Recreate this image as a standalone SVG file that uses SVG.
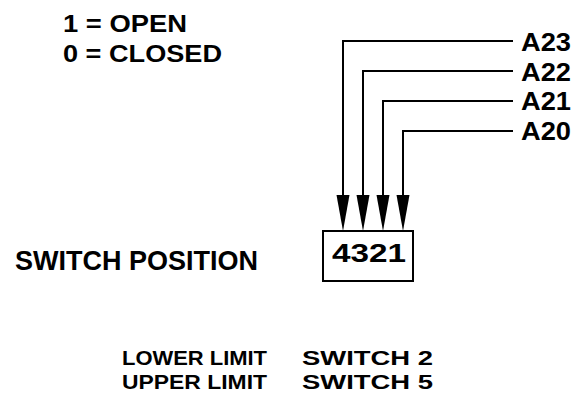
<svg xmlns="http://www.w3.org/2000/svg" width="574" height="405" viewBox="0 0 574 405">
<style>
text{font-family:"Liberation Sans",Arial,sans-serif;font-weight:bold;fill:#000}
.ln{fill:none;stroke:#000;stroke-width:2}
.ah{fill:#000}
</style>
<rect width="574" height="405" fill="#fff"/>
<g id="legend">
<text x="63" y="31.5" font-size="24.5" textLength="124" lengthAdjust="spacingAndGlyphs">1 = OPEN</text>
<text x="63" y="61.5" font-size="24.5" textLength="159" lengthAdjust="spacingAndGlyphs">0 = CLOSED</text>
</g>
<g id="labels">
<text x="521" y="51" font-size="25" textLength="50" lengthAdjust="spacingAndGlyphs">A23</text>
<text x="521" y="81" font-size="25" textLength="50" lengthAdjust="spacingAndGlyphs">A22</text>
<text x="521" y="110" font-size="25" textLength="50" lengthAdjust="spacingAndGlyphs">A21</text>
<text x="521" y="140" font-size="25" textLength="50" lengthAdjust="spacingAndGlyphs">A20</text>
</g>
<g id="connectors">
<polyline class="ln" points="513,41 343,41 343,200"/>
<polyline class="ln" points="513,71 363,71 363,200"/>
<polyline class="ln" points="513,101 383,101 383,200"/>
<polyline class="ln" points="513,131 403,131 403,200"/>
<polygon class="ah" points="336.5,195 349.5,195 343,231"/>
<polygon class="ah" points="356.5,195 369.5,195 363,231"/>
<polygon class="ah" points="376.5,195 389.5,195 383,231"/>
<polygon class="ah" points="396.5,195 409.5,195 403,231"/>
</g>
<g id="switch">
<rect x="323" y="231" width="90" height="50" fill="none" stroke="#000" stroke-width="2"/>
<text x="332" y="262" font-size="26" textLength="74" lengthAdjust="spacingAndGlyphs">4321</text>
</g>
<g id="switch-position">
<text x="15" y="270" font-size="28" textLength="243" lengthAdjust="spacingAndGlyphs">SWITCH POSITION</text>
</g>
<g id="limits">
<text x="122" y="365" font-size="21" textLength="145" lengthAdjust="spacingAndGlyphs">LOWER LIMIT</text>
<text x="302" y="365" font-size="21" textLength="131" lengthAdjust="spacingAndGlyphs">SWITCH 2</text>
<text x="122" y="389" font-size="21" textLength="145" lengthAdjust="spacingAndGlyphs">UPPER LIMIT</text>
<text x="302" y="389" font-size="21" textLength="131" lengthAdjust="spacingAndGlyphs">SWITCH 5</text>
</g>
</svg>
